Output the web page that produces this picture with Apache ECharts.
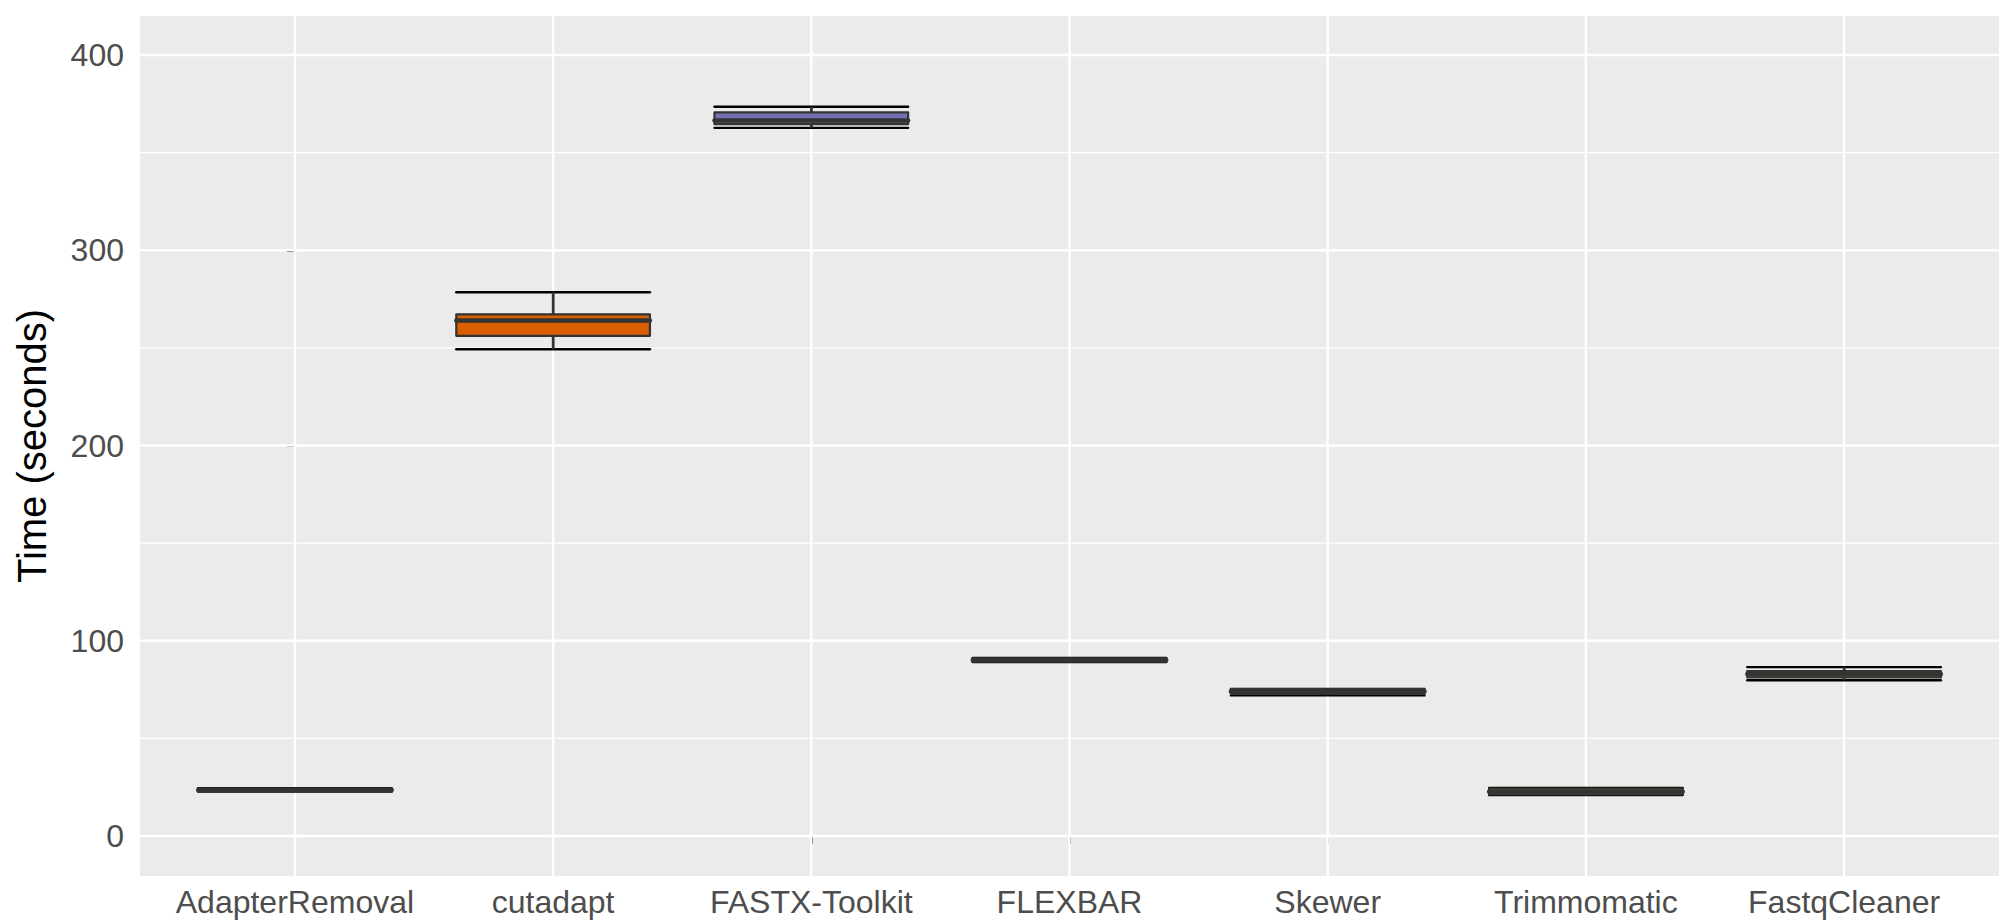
<!DOCTYPE html>
<html>
<head>
<meta charset="utf-8">
<script src="https://cdn.jsdelivr.net/npm/echarts@6/dist/echarts.min.js"></script>
<style>
html,body{margin:0;padding:0;background:#ffffff;}
#chart{width:2008px;height:922px;}
</style>
</head>
<body>
<div id="chart"></div>
<script>
// ---- data ----
var categories = ['AdapterRemoval', 'cutadapt', 'FASTX-Toolkit', 'FLEXBAR', 'Skewer', 'Trimmomatic', 'FastqCleaner'];
var whiskerLow  = [22.7, 249.3, 362.7, 89.1, 72.0, 21.0, 79.8];
var q1          = [22.9, 256.2, 364.6, 89.3, 72.8, 21.3, 81.2];
var median      = [23.6, 264.0, 366.5, 90.1, 74.0, 22.7, 83.0];
var q3          = [24.3, 267.2, 370.6, 91.0, 75.2, 24.3, 84.5];
var whiskerHigh = [24.5, 278.5, 373.5, 91.2, 75.3, 24.6, 86.5];
var yTicks = [0, 100, 200, 300, 400];
var yMinorLines = [50, 150, 250, 350];
var yLabel = 'Time (seconds)';

// ---- styles ----
var fills = ['#1B9E77', '#D95F02', '#7570B3', '#E7298A', '#66A61E', '#E6AB02', '#A6761D'];
var BOX_WIDTH = 0.75;
var X_MIN = -0.6, X_MAX = 6.6, Y_MIN = -20.5, Y_MAX = 420;
var xIdx = categories.map(function (c, i) { return i; });

var boxData = categories.map(function (c, i) {
  return [i, whiskerLow[i], q1[i], median[i], q3[i], whiskerHigh[i]];
});

function renderBox(params, api) {
  var x = api.value(0);
  var wl = api.coord([x, api.value(1)]);
  var b1 = api.coord([x, api.value(2)]);
  var md = api.coord([x, api.value(3)]);
  var b3 = api.coord([x, api.value(4)]);
  var wh = api.coord([x, api.value(5)]);
  var half = api.size([BOX_WIDTH, 0])[0] / 2;
  var cx = md[0];
  var fill = fills[params.dataIndex % fills.length];
  return {
    type: 'group',
    children: [
      { type: 'line', shape: { x1: cx, y1: wl[1], x2: cx, y2: wh[1] }, style: { stroke: '#000000', lineWidth: 2.4 } },
      { type: 'line', shape: { x1: cx - half, y1: wl[1], x2: cx + half, y2: wl[1] }, style: { stroke: '#000000', lineWidth: 2.4, lineCap: 'round' } },
      { type: 'line', shape: { x1: cx - half, y1: wh[1], x2: cx + half, y2: wh[1] }, style: { stroke: '#000000', lineWidth: 2.4, lineCap: 'round' } },
      { type: 'line', shape: { x1: cx, y1: wl[1], x2: cx, y2: b1[1] }, style: { stroke: '#333333', lineWidth: 2.4 } },
      { type: 'line', shape: { x1: cx, y1: b3[1], x2: cx, y2: wh[1] }, style: { stroke: '#333333', lineWidth: 2.4 } },
      { type: 'rect', shape: { x: cx - half, y: b3[1], width: half * 2, height: b1[1] - b3[1] },
        style: { fill: fill, stroke: '#333333', lineWidth: 2.2, lineJoin: 'round' } },
      { type: 'line', shape: { x1: cx - half, y1: md[1], x2: cx + half, y2: md[1] }, style: { stroke: '#333333', lineWidth: 4.4, lineCap: 'round' } }
    ]
  };
}

function renderHLine(width) {
  return function (params, api) {
    var p1 = api.coord([X_MIN, api.value(1)]);
    var p2 = api.coord([X_MAX, api.value(1)]);
    return { type: 'line', shape: { x1: p1[0], y1: p1[1], x2: p2[0], y2: p2[1] },
      style: { stroke: '#ffffff', lineWidth: width } };
  };
}
function renderVLine(params, api) {
  var p1 = api.coord([api.value(0), Y_MIN]);
  var p2 = api.coord([api.value(0), Y_MAX]);
  return { type: 'line', shape: { x1: p1[0], y1: p1[1], x2: p2[0], y2: p2[1] },
    style: { stroke: '#ffffff', lineWidth: 2.4 } };
}

var chart = echarts.init(document.getElementById('chart'), null, { renderer: 'svg' });
var font = 'Liberation Sans, Arial, Helvetica, sans-serif';
chart.setOption({
  animation: false,
  backgroundColor: '#ffffff',
  tooltip: { show: false },
  grid: { left: 140, top: 16, right: 9, bottom: 46, show: true, backgroundColor: '#EBEBEB', borderWidth: 0, containLabel: false },
  xAxis: {
    type: 'value', min: X_MIN, max: X_MAX,
    axisLine: { show: false },
    splitLine: { show: false },
    axisPointer: { show: false },
    axisTick: { show: true, length: 8, customValues: xIdx, lineStyle: { color: '#333333', width: 2 } },
    axisLabel: { show: true, customValues: xIdx, margin: 10, color: '#4D4D4D', fontSize: 32, fontFamily: font,
      formatter: function (v) { return categories[Math.round(v)]; } }
  },
  yAxis: {
    type: 'value', min: Y_MIN, max: Y_MAX,
    name: yLabel, nameLocation: 'middle', nameRotate: 90, nameGap: 88,
    nameTextStyle: { color: '#000000', fontSize: 40, fontFamily: font },
    axisLine: { show: false },
    splitLine: { show: false },
    axisPointer: { show: false },
    axisTick: { show: true, length: 8, customValues: yTicks, lineStyle: { color: '#333333', width: 2 } },
    axisLabel: { show: true, customValues: yTicks, margin: 16, color: '#4D4D4D', fontSize: 32, fontFamily: font }
  },
  series: [
    { type: 'custom', name: 'minor', z: 1, silent: true, clip: true, renderItem: renderHLine(1.2),
      encode: { x: 0, y: 1 }, data: yMinorLines.map(function (v) { return [X_MIN, v]; }) },
    { type: 'custom', name: 'major', z: 1, silent: true, clip: true, renderItem: renderHLine(2.4),
      encode: { x: 0, y: 1 }, data: yTicks.map(function (v) { return [X_MIN, v]; }) },
    { type: 'custom', name: 'vmajor', z: 1, silent: true, clip: true, renderItem: renderVLine,
      encode: { x: 0, y: 1 }, data: xIdx.map(function (i) { return [i, Y_MIN]; }) },
    { type: 'custom', name: 'box', z: 3, silent: true, renderItem: renderBox,
      encode: { x: 0, y: [1, 2, 3, 4, 5] }, data: boxData }
  ]
});
</script>
</body>
</html>
